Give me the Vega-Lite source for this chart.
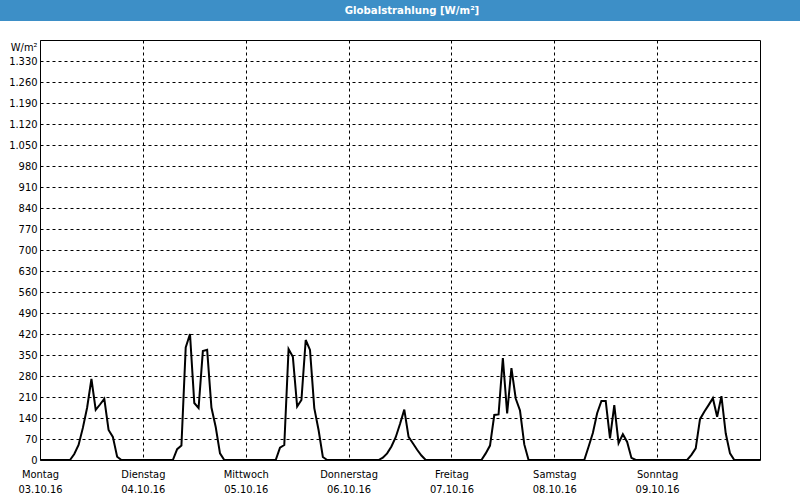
{
  "$schema": "https://vega.github.io/schema/vega-lite/v6.json",
  "padding": 0,
  "background": "white",
  "spacing": 19,
  "center": true,
  "bounds": "flush",
  "config": {
    "font": "DejaVu Sans Condensed, DejaVu Sans",
    "view": {"stroke": "black", "strokeWidth": 1},
    "axis": {
      "labelFont": "DejaVu Sans Condensed, DejaVu Sans",
      "labelFontSize": 11,
      "labelColor": "black",
      "titleFont": "DejaVu Sans Condensed, DejaVu Sans",
      "titleColor": "black",
      "gridColor": "black",
      "gridOpacity": 1,
      "gridDash": [3, 3],
      "gridWidth": 1
    }
  },
  "vconcat": [
    {
      "width": 800,
      "height": 21,
      "view": {"fill": "#3d8fc7", "stroke": null},
      "data": {"values": [{"title": "Globalstrahlung [W/m²]"}]},
      "mark": {"type": "text", "color": "white", "fontWeight": "bold", "fontSize": 11.3, "baseline": "middle", "align": "center", "dx": 12},
      "encoding": {"text": {"field": "title"}}
    },
    {
      "width": 720,
      "height": 420,
      "data": {"values": [
        {"t": "2016-10-03T00:00", "v": 0}, {"t": "2016-10-03T07:00", "v": 0}, {"t": "2016-10-03T08:00", "v": 20}, {"t": "2016-10-03T09:00", "v": 50}, {"t": "2016-10-03T10:00", "v": 107}, {"t": "2016-10-03T11:00", "v": 175}, {"t": "2016-10-03T12:00", "v": 270}, {"t": "2016-10-03T13:00", "v": 167}, {"t": "2016-10-03T14:00", "v": 185}, {"t": "2016-10-03T15:00", "v": 204}, {"t": "2016-10-03T16:00", "v": 100}, {"t": "2016-10-03T17:00", "v": 77}, {"t": "2016-10-03T18:00", "v": 11}, {"t": "2016-10-03T19:00", "v": 0},
        {"t": "2016-10-04T00:00", "v": 0}, {"t": "2016-10-04T07:00", "v": 0}, {"t": "2016-10-04T08:00", "v": 36}, {"t": "2016-10-04T09:00", "v": 48}, {"t": "2016-10-04T10:00", "v": 375}, {"t": "2016-10-04T11:00", "v": 420}, {"t": "2016-10-04T12:00", "v": 190}, {"t": "2016-10-04T13:00", "v": 173}, {"t": "2016-10-04T14:00", "v": 363}, {"t": "2016-10-04T15:00", "v": 367}, {"t": "2016-10-04T16:00", "v": 175}, {"t": "2016-10-04T17:00", "v": 110}, {"t": "2016-10-04T18:00", "v": 22}, {"t": "2016-10-04T19:00", "v": 0},
        {"t": "2016-10-05T00:00", "v": 0}, {"t": "2016-10-05T07:00", "v": 0}, {"t": "2016-10-05T08:00", "v": 41}, {"t": "2016-10-05T09:00", "v": 50}, {"t": "2016-10-05T10:00", "v": 370}, {"t": "2016-10-05T11:00", "v": 344}, {"t": "2016-10-05T12:00", "v": 178}, {"t": "2016-10-05T13:00", "v": 200}, {"t": "2016-10-05T14:00", "v": 400}, {"t": "2016-10-05T15:00", "v": 367}, {"t": "2016-10-05T16:00", "v": 173}, {"t": "2016-10-05T17:00", "v": 100}, {"t": "2016-10-05T18:00", "v": 10}, {"t": "2016-10-05T19:00", "v": 0},
        {"t": "2016-10-06T00:00", "v": 0}, {"t": "2016-10-06T07:00", "v": 0}, {"t": "2016-10-06T08:00", "v": 8}, {"t": "2016-10-06T09:00", "v": 22}, {"t": "2016-10-06T10:00", "v": 45}, {"t": "2016-10-06T11:00", "v": 76}, {"t": "2016-10-06T12:00", "v": 120}, {"t": "2016-10-06T13:00", "v": 168}, {"t": "2016-10-06T14:00", "v": 77}, {"t": "2016-10-06T15:00", "v": 56}, {"t": "2016-10-06T16:00", "v": 34}, {"t": "2016-10-06T17:00", "v": 15}, {"t": "2016-10-06T18:00", "v": 0},
        {"t": "2016-10-07T00:00", "v": 0}, {"t": "2016-10-07T07:00", "v": 0}, {"t": "2016-10-07T08:00", "v": 22}, {"t": "2016-10-07T09:00", "v": 48}, {"t": "2016-10-07T10:00", "v": 150}, {"t": "2016-10-07T11:00", "v": 152}, {"t": "2016-10-07T12:00", "v": 340}, {"t": "2016-10-07T13:00", "v": 155}, {"t": "2016-10-07T14:00", "v": 306}, {"t": "2016-10-07T15:00", "v": 205}, {"t": "2016-10-07T16:00", "v": 165}, {"t": "2016-10-07T17:00", "v": 52}, {"t": "2016-10-07T18:00", "v": 0},
        {"t": "2016-10-08T00:00", "v": 0}, {"t": "2016-10-08T07:00", "v": 0}, {"t": "2016-10-08T08:00", "v": 44}, {"t": "2016-10-08T09:00", "v": 90}, {"t": "2016-10-08T10:00", "v": 156}, {"t": "2016-10-08T11:00", "v": 197}, {"t": "2016-10-08T12:00", "v": 197}, {"t": "2016-10-08T13:00", "v": 72}, {"t": "2016-10-08T14:00", "v": 183}, {"t": "2016-10-08T15:00", "v": 56}, {"t": "2016-10-08T16:00", "v": 86}, {"t": "2016-10-08T17:00", "v": 60}, {"t": "2016-10-08T18:00", "v": 7}, {"t": "2016-10-08T19:00", "v": 0},
        {"t": "2016-10-09T00:00", "v": 0}, {"t": "2016-10-09T07:00", "v": 0}, {"t": "2016-10-09T08:00", "v": 17}, {"t": "2016-10-09T09:00", "v": 39}, {"t": "2016-10-09T10:00", "v": 136}, {"t": "2016-10-09T11:00", "v": 161}, {"t": "2016-10-09T12:00", "v": 183}, {"t": "2016-10-09T13:00", "v": 206}, {"t": "2016-10-09T14:00", "v": 144}, {"t": "2016-10-09T15:00", "v": 213}, {"t": "2016-10-09T16:00", "v": 89}, {"t": "2016-10-09T17:00", "v": 22}, {"t": "2016-10-09T18:00", "v": 0},
        {"t": "2016-10-10T00:00", "v": 0}
      ]},
      "mark": {"type": "line", "color": "black", "strokeWidth": 2, "clip": true},
      "encoding": {
        "x": {
          "field": "t",
          "type": "temporal",
          "scale": {"domain": [{"year": 2016, "month": 10, "date": 3}, {"year": 2016, "month": 10, "date": 10}]},
          "axis": {
            "values": [
              {"year": 2016, "month": 10, "date": 3},
              {"year": 2016, "month": 10, "date": 4},
              {"year": 2016, "month": 10, "date": 5},
              {"year": 2016, "month": 10, "date": 6},
              {"year": 2016, "month": 10, "date": 7},
              {"year": 2016, "month": 10, "date": 8},
              {"year": 2016, "month": 10, "date": 9}
            ],
            "labelExpr": "[['Sonntag','Montag','Dienstag','Mittwoch','Donnerstag','Freitag','Samstag'][day(datum.value)], timeFormat(datum.value, '%d.%m.%y')]",
            "labelAlign": "center",
            "labelBaseline": "top",
            "labelPadding": 8,
            "labelLineHeight": 15,
            "labelFlush": false,
            "labelOverlap": false,
            "ticks": false,
            "domain": false,
            "grid": true,
            "title": null
          }
        },
        "y": {
          "field": "v",
          "type": "quantitative",
          "scale": {"domain": [0, 1400], "nice": false},
          "axis": {
            "values": [0, 70, 140, 210, 280, 350, 420, 490, 560, 630, 700, 770, 840, 910, 980, 1050, 1120, 1190, 1260, 1330],
            "labelExpr": "replace(format(datum.value, ','), ',', '.')",
            "labelPadding": 3,
            "ticks": false,
            "domain": false,
            "grid": true,
            "title": "W/m²",
            "titleAngle": 0,
            "titleAlign": "right",
            "titleBaseline": "middle",
            "titleFontWeight": "normal",
            "titleFontSize": 11,
            "titleX": -3,
            "titleY": 7
          }
        }
      }
    }
  ]
}
